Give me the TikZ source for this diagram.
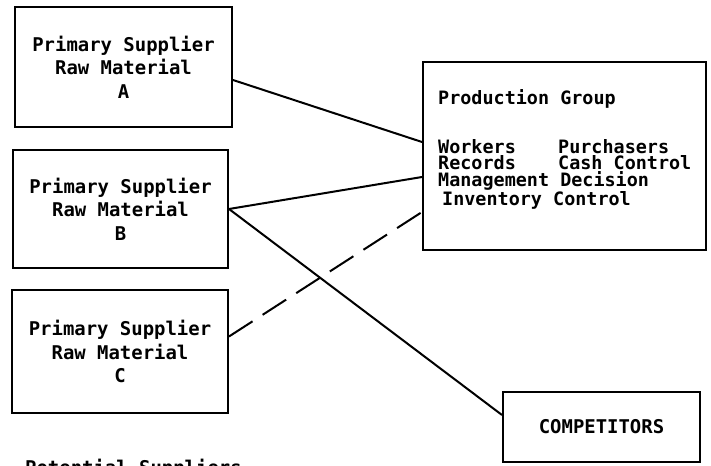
\documentclass[tikz,border=0pt]{standalone}
\usepackage{xcolor}
\usepackage{fontspec}
\usetikzlibrary{calc,positioning}
\newfontfamily\dotfont{DejaVu Sans Mono}
\tikzset{
    supbox/.style={draw, line width=2bp, align=center, inner sep=0pt,
        font={\dotfont\bfseries\fontsize{19}{23.5}\selectfont}},
    link/.style={line width=2bp},
}

\begin{document}
\begin{tikzpicture}[x=1bp,y=-1bp]
    \useasboundingbox (0,0) rectangle (711,466);
    \clip (0,0) rectangle (711,466);

    % Draw supplier boxes.
    \foreach \n/\x/\y/\w/\h in {A/123.5/67/217/120, B/120.5/209/215/118, C/120/351.5/216/123}
        \node[supbox, minimum width=\w bp, minimum height=\h bp] (sup\n) at (\x,\y)
            {Primary Supplier\\Raw Material\\\n};

    % Draw production group.
    \node[supbox, minimum width=283bp, minimum height=188bp] (prod) at (564.5,156) {};
    \node[anchor=north west, align=left, inner sep=0pt,
        font={\dotfont\bfseries\fontsize{18.5}{17}\selectfont}] (prodlist) at (438,89)
        {Production Group\\[30bp]
         \makebox[120bp][l]{Workers}Purchasers\\
         \makebox[120bp][l]{Records}Cash Control\\
         Management Decision\\
         \hspace{4bp}Inventory Control};

    % Draw competitors.
    \node[supbox, minimum width=197bp, minimum height=70bp] (comp) at (601.5,427) {COMPETITORS};

    % Draw links.
    \draw[link] ($(supA.east)+(0,13)$) -- ($(prod.west)+(0,-14)$);
    \draw[link] (supB.east) -- ($(prod.west)+(0,21)$);
    \draw[link, dash pattern=on 28bp off 12bp] ($(supC.east)+(0,-15)$) -- ($(prod.west)+(0,56)$);
    \draw[link] (supB.east) -- ($(comp.west)+(0,-12)$);

    % Cut-off note at the bottom.
    \node[anchor=base west, inner sep=0pt,
        font={\dotfont\bfseries\fontsize{19}{23.5}\selectfont}] (note) at (25,474) {Potential Suppliers};
\end{tikzpicture}
\end{document}
